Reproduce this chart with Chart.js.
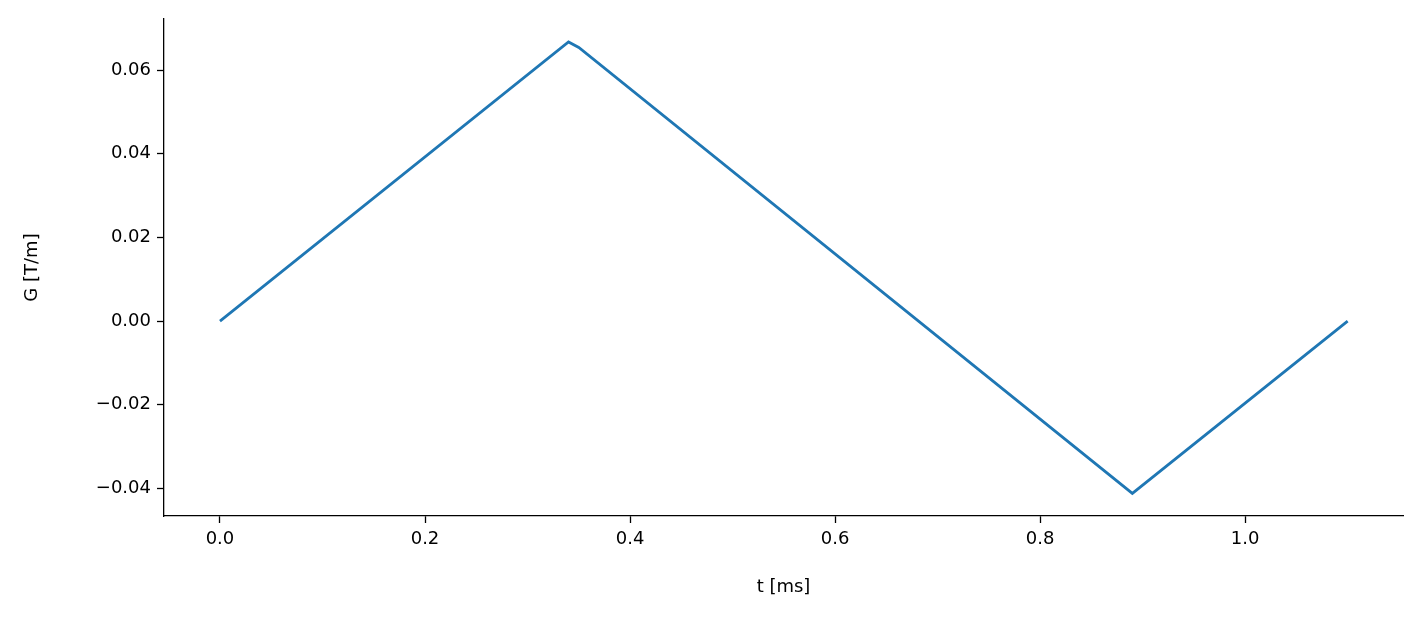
<!DOCTYPE html>
<html><head><meta charset="utf-8">
<script src="https://cdn.jsdelivr.net/npm/chart.js@4"></script>
<style>html,body{margin:0;padding:0;background:#fff}#w{width:1423px;height:623px}</style>
</head><body><div id="w"><canvas id="c"></canvas></div>
<script>
const tValues = [0, 0.34, 0.35, 0.89, 1.10];
const gValues = [0, 0.0667, 0.0654, -0.0412, 0];
const xTicks = [0, 0.2, 0.4, 0.6, 0.8, 1.0];
const yTicks = [-0.04, -0.02, 0, 0.02, 0.04, 0.06];
const xTitle = 't [ms]';
const yTitle = 'G [T/m]';
const font = {family: 'DejaVu Sans', size: 18};
const titles = {
  id: 'titles',
  afterDraw(chart) {
    const ctx = chart.ctx, a = chart.chartArea;
    ctx.save();
    ctx.fillStyle = '#000';
    ctx.font = '18px "DejaVu Sans"';
    ctx.textAlign = 'center'; ctx.textBaseline = 'middle';
    ctx.fillText(xTitle, (a.left + a.right) / 2, 587);
    ctx.translate(32, (a.top + a.bottom) / 2);
    ctx.rotate(-Math.PI / 2);
    ctx.fillText(yTitle, 0, 0);
    ctx.restore();
  }
};
new Chart(document.getElementById('c'), {
  type: 'scatter',
  data: {datasets: [{data: tValues.map((t,i)=>({x:t,y:gValues[i]})), showLine: true,
    borderColor: '#1f77b4', borderWidth: 2.8, pointRadius: 0, fill: false}]},
  plugins: [titles],
  options: {
    responsive: true, maintainAspectRatio: false, animation: false,
    layout: {padding: {top: 19, right: 20, left: 0, bottom: 0}},
    plugins: {legend: {display: false}, tooltip: {enabled: false}},
    scales: {
      x: {type: 'linear', min: -0.0546, max: 1.154,
        afterBuildTicks: a => { a.ticks = xTicks.map(v => ({value: v})); },
        afterFit: a => { a.height = 107; },
        grid: {display: true, drawOnChartArea: false, drawTicks: true, tickLength: 7, tickColor: '#000', tickWidth: 1.3},
        border: {color: '#000', width: 1.3},
        ticks: {color: '#000', font, padding: 6, maxRotation: 0, callback: v => v.toFixed(1)}},
      y: {type: 'linear', min: -0.0466, max: 0.0722,
        afterBuildTicks: a => { a.ticks = yTicks.map(v => ({value: v})); },
        afterFit: a => { a.width = 164; },
        grid: {display: true, drawOnChartArea: false, drawTicks: true, tickLength: 7, tickColor: '#000', tickWidth: 1.3},
        border: {color: '#000', width: 1.3},
        ticks: {color: '#000', font, padding: 6, callback: v => (v < 0 ? '\u2212' : '') + Math.abs(v).toFixed(2)}}
    }
  }
});
</script></body></html>
